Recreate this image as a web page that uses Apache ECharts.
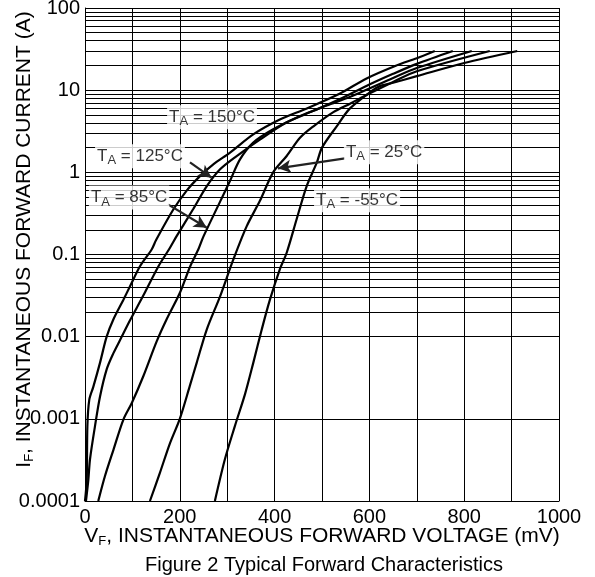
<!DOCTYPE html>
<html><head><meta charset="utf-8">
<script src="https://cdn.jsdelivr.net/npm/echarts@6/dist/echarts.min.js"></script>
<style>html,body{margin:0;padding:0;background:#fff}#c{width:595px;height:577px}</style>
</head><body><div id="c"></div>
<script>
// ---- data ----
const xTickLabels = ['0','200','400','600','800','1000'];
const yTickLabels = ['0.0001','0.001','0.01','0.1','1','10','100'];
const minorMultipliers = [2,3,4,5,6,7,8,9];
const decades = [0.0001,0.001,0.01,0.1,1,10];

const v150 = [0,3.6,5,9,17.5,31.6,45.7,59.8,80.8,95,116,140.6,150,186,214.5,242.6,270.7,306,355,411,468,538,594,657,700,738];
const i150 = [0.0001,0.00018,0.00081,0.0017,0.00245,0.0048,0.01,0.0162,0.028,0.041,0.072,0.115,0.15,0.35,0.6,0.9,1.25,1.74,2.9,4.4,6.0,9.1,13.9,20,24.5,30];

const v125 = [2,7,10.5,21,31.6,45.7,60,74,95,123,155,179,193,228,257,285,320,369,425,482,538,600,650,700,776];
const i125 = [0.0001,0.00018,0.00032,0.00081,0.00186,0.004,0.0063,0.0091,0.0158,0.0316,0.072,0.12,0.166,0.355,0.68,1.09,1.58,2.5,4.04,5.6,7.8,11.7,15.8,20.9,30];

const v85 = [28,42,60,81,98.5,123,151,172,200,222,239,250,285,306,327,355,397,454,510,560,600,650,700,816];
const i85 = [0.0001,0.0002,0.00042,0.00098,0.00155,0.0033,0.0087,0.0162,0.034,0.072,0.115,0.166,0.44,0.79,1.44,2.3,3.34,4.86,6.5,8.3,10.5,14.1,18.6,30];

const v25 = [137,158,179,200,221,235.6,257,285,313,341,369,397,425.5,453.6,482,524,560,600,650,700,854];
const i25 = [0.0001,0.00022,0.0005,0.001,0.0025,0.0048,0.0123,0.031,0.087,0.22,0.45,1.0,1.58,2.63,3.63,5.4,6.9,9.1,12.6,17,30];

const vm55 = [274,295,316,337.6,355,373,390,411,425.5,446.6,467.7,489,500,531,559,605,622,650,700,800,912];
const im55 = [0.0001,0.00032,0.00081,0.002,0.0048,0.0123,0.028,0.066,0.105,0.27,0.68,1.31,2.0,3.63,6.0,9.8,11.2,12.3,14.8,21.4,30];

// annotations (data coordinates)
const labelTemps = ['150°C','125°C','85°C','25°C','-55°C'];
const labelV = [268,116,93,631,574];
const labelI = [4.69,1.57,0.495,1.75,0.456];
const arrowFromV = [221.5,175,548.5];
const arrowFromI = [1.32,0.407,1.48];
const arrowToV = [267,257,407];
const arrowToI = [0.86,0.212,1.12];

// ---- chart ----
const FONT = "'Liberation Sans', Arial, sans-serif";
const zip = (a,b) => a.map((v,k)=>[v,b[k]]);
const minorVals = [];
decades.forEach(d => minorMultipliers.forEach(m => minorVals.push(m*d)));

const curve = (v,i) => ({
  type:'line', data: zip(v,i), symbol:'none', smooth:0.3, z:4,
  lineStyle:{color:'#000', width:2.2}, silent:true
});

const chart = echarts.init(document.getElementById('c'), null, {renderer:'canvas'});
chart.setOption({
  animation:false,
  backgroundColor:'#fff',
  textStyle:{fontFamily:FONT},
  title:{text:'Figure 2 Typical Forward Characteristics', left:145, top:555, padding:0,
    textStyle:{fontFamily:FONT, fontSize:20, fontWeight:'normal', color:'#000'}},
  grid:{left:85, right:36, top:8, bottom:76, containLabel:false, outerBoundsMode:'none'},
  xAxis:{
    type:'value', min:0, max:1000, interval:100,
    name:'{t|V}{s|F}{t|, INSTANTANEOUS FORWARD VOLTAGE (mV)}',
    nameLocation:'middle', nameGap:23, nameMoveOverlap:false,
    nameTextStyle:{fontFamily:FONT, fontSize:21, color:'#000',
      rich:{t:{fontFamily:FONT,fontSize:21,color:'#000',lineHeight:24},
            s:{fontFamily:FONT,fontSize:13,color:'#000',lineHeight:12,verticalAlign:'bottom'}}},
    axisLine:{show:true, lineStyle:{color:'#000', width:1}},
    axisTick:{show:false},
    axisLabel:{fontFamily:FONT, fontSize:20, color:'#000', margin:6,
      formatter: v => { const s = String(v); return xTickLabels.includes(s) ? s : ''; }},
    splitLine:{show:true, lineStyle:{color:'#000', width:1}}
  },
  yAxis:{
    type:'log', logBase:10, min:0.0001, max:100,
    name:'{t|I}{s|F}{t|, INSTANTANEOUS FORWARD CURRENT (A)}',
    nameLocation:'middle', nameRotate:90, nameGap:49, nameMoveOverlap:false,
    nameTextStyle:{fontFamily:FONT, fontSize:21, color:'#000', backgroundColor:'#fff', padding:[0,0,0,30],
      rich:{t:{fontFamily:FONT,fontSize:21,color:'#000',lineHeight:24},
            s:{fontFamily:FONT,fontSize:13,color:'#000',lineHeight:12,verticalAlign:'bottom'}}},
    axisLine:{show:true, lineStyle:{color:'#000', width:1}},
    axisTick:{show:false},
    axisLabel:{fontFamily:FONT, fontSize:20, color:'#000', margin:5,
      formatter: v => yTickLabels[Math.round(Math.log10(v))+4] || ''},
    splitLine:{show:true, lineStyle:{color:'#000', width:1}}
  },
  series:[
    {type:'line', data:[], z:1, silent:true,
      markLine:{silent:true, symbol:'none', animation:false,
        label:{show:false},
        lineStyle:{color:'#000', width:1, type:'solid'},
        data: minorVals.map(v=>({yAxis:v}))}},
    curve(v150,i150), curve(v125,i125), curve(v85,i85), curve(v25,i25), curve(vm55,im55),
    {type:'line', data:[], z:6, silent:true,
      markLine:{silent:true, symbol:['none','arrow'], symbolSize:[10,13], animation:false,
        label:{show:false},
        lineStyle:{color:'#222', width:2.2, type:'solid'},
        data: arrowFromV.map((v,k)=>[{coord:[v,arrowFromI[k]]},{coord:[arrowToV[k],arrowToI[k]]}])}},
    {type:'scatter', z:7, silent:true, symbolSize:1, itemStyle:{color:'rgba(0,0,0,0)'},
      data: zip(labelV,labelI).map((p,k)=>({value:p, name:labelTemps[k]})),
      label:{show:true, position:'inside', backgroundColor:'#fff', padding:[1,2,1,2],
        formatter: p => '{t|T}{s|A}{t| = ' + p.name + '}',
        rich:{t:{fontFamily:FONT,fontSize:17,color:'#000',lineHeight:22},
              s:{fontFamily:FONT,fontSize:13,color:'#000',lineHeight:12,verticalAlign:'bottom'}}}}
  ]
});
</script></body></html>
